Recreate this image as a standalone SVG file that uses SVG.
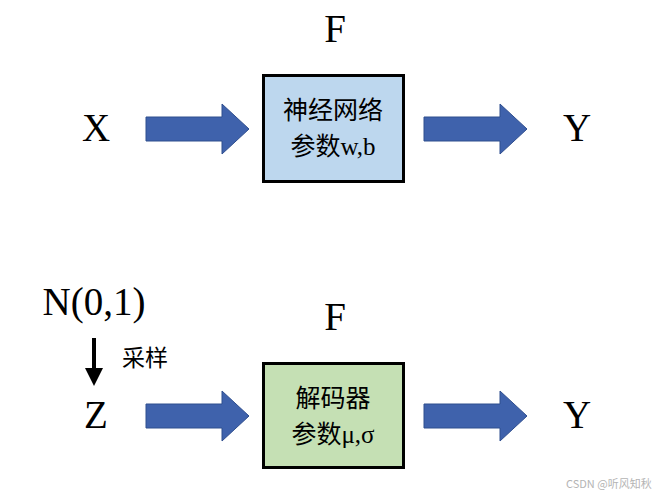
<svg xmlns="http://www.w3.org/2000/svg" width="669" height="498" viewBox="0 0 669 498">
<defs>
<style>
.lat{font-family:"Liberation Serif","Times New Roman",serif;fill:#000}
.cjk{font-family:"Noto Sans CJK SC","Liberation Sans",sans-serif;fill:#000}
.box{stroke:#000;stroke-width:3}
.barrow{fill:#3F62AC;stroke:#2F4E8E;stroke-width:1}
</style>
<polygon id="blk" points="0,-12 76,-12 76,-25 103,0 76,25 76,12 0,12"/>
</defs>
<rect width="669" height="498" fill="#fff"/>
<g id="connectors">
<use href="#blk" class="barrow" x="146" y="129"/>
<use href="#blk" class="barrow" x="424" y="129"/>
<use href="#blk" class="barrow" x="146" y="416"/>
<use href="#blk" class="barrow" x="424" y="416"/>
<g id="sample-arrow">
<line x1="94" y1="338" x2="94" y2="370" stroke="#000" stroke-width="4"/>
<polygon points="85,368 103,368 94,386" fill="#000"/>
<text class="cjk" x="122" y="366" font-size="23">采样</text>
</g>
</g>
<g id="label-F1"><text class="lat" x="335" y="42" font-size="39" text-anchor="middle">F</text></g>
<g id="node-X"><text class="lat" x="96" y="141" font-size="39" text-anchor="middle">X</text></g>
<g id="node-Y1"><text class="lat" x="577" y="141" font-size="39" text-anchor="middle">Y</text></g>
<g id="node-nn">
<rect class="box" x="263.5" y="75.5" width="140" height="106" fill="#BDD7EE"/>
<text class="cjk" x="333" y="119" font-size="25" text-anchor="middle">神经网络</text>
<text x="333" y="155" font-size="25" text-anchor="middle"><tspan class="cjk">参数</tspan><tspan class="lat">w,b</tspan></text>
</g>
<g id="node-N"><text class="lat" x="94" y="315" font-size="39" text-anchor="middle">N(0,1)</text></g>
<g id="label-F2"><text class="lat" x="335" y="330" font-size="39" text-anchor="middle">F</text></g>
<g id="node-Z"><text class="lat" x="96" y="428" font-size="39" text-anchor="middle">Z</text></g>
<g id="node-Y2"><text class="lat" x="577" y="428" font-size="39" text-anchor="middle">Y</text></g>
<g id="node-dec">
<rect class="box" x="263.5" y="363.5" width="140" height="104" fill="#C5E0B4"/>
<text class="cjk" x="333" y="407" font-size="25" text-anchor="middle">解码器</text>
<text x="333" y="443" font-size="25" text-anchor="middle"><tspan class="cjk">参数</tspan><tspan class="lat">μ,σ</tspan></text>
</g>
<text x="566" y="488" font-family="Noto Sans CJK SC,Liberation Sans,sans-serif" font-size="11" fill="#b4b4b4">CSDN @听风知秋</text>
</svg>
